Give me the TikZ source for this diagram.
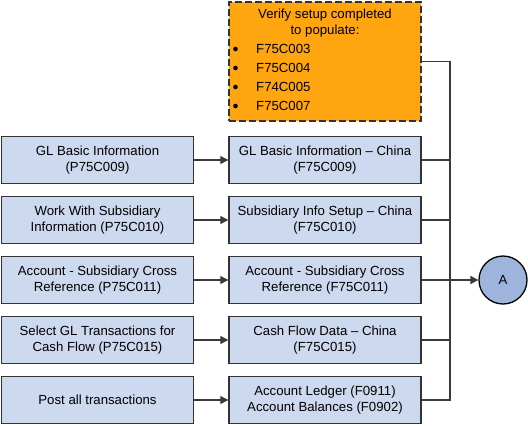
\documentclass[tikz,border=0pt]{standalone}
\usepackage{fontspec}
\setmainfont{Liberation Sans}
\usetikzlibrary{arrows.meta}
\definecolor{boxblue}{HTML}{CCD9EE}
\definecolor{boxline}{HTML}{333333}
\definecolor{orangefill}{HTML}{FFA50F}
\definecolor{circfill}{HTML}{9FB4DC}
\definecolor{wire}{HTML}{3A3A3A}
\tikzset{
  bluebox/.style={draw=boxline, line width=1.4pt, fill=boxblue, minimum width=192pt, minimum height=47pt, inner sep=0pt, align=center, font=\fontsize{13.2}{15.5}\selectfont},
  orangebox/.style={draw=boxline, line width=1.5pt, dash pattern=on 7pt off 3pt, fill=orangefill, minimum width=192pt, minimum height=119pt, inner sep=0pt},
  otext/.style={font=\fontsize{13.2}{15.5}\selectfont, inner sep=0pt},
  wireline/.style={draw=wire, line width=1.3pt},
  flow/.style={wireline, -{Triangle[length=8pt,width=8pt]}},
  endcirc/.style={circle, draw=black, line width=1.3pt, fill=circfill, minimum size=48pt, inner sep=0pt, font=\fontsize{13.2}{15.5}\selectfont}
}
\begin{document}
\begin{tikzpicture}[x=1pt,y=-1pt]
\useasboundingbox (0,0) rectangle (528,426);
% orange box
\node[orangebox] (org) at (325,61.5) {};
\node[otext] (t1) at (325,15) {Verify setup completed};
\node[otext] (t2) at (325,31) {to populate:};
\node[otext, anchor=west] (b1) at (256,49) {F75C003};
\node[otext, anchor=west] (b2) at (256,68) {F75C004};
\node[otext, anchor=west] (b3) at (256,87) {F74C005};
\node[otext, anchor=west] (b4) at (256,106) {F75C007};
\foreach \yy in {49,68,87,106}{
  \fill[black] (235.5,\yy) circle (2.3pt);
}
% left boxes
\node[bluebox] (l1) at (97.5,160) {GL Basic Information\\(P75C009)};
\node[bluebox] (l2) at (97.5,220) {Work With Subsidiary\\Information (P75C010)};
\node[bluebox] (l3) at (97.5,280) {Account - Subsidiary Cross\\Reference (P75C011)};
\node[bluebox] (l4) at (97.5,340) {Select GL Transactions for\\Cash Flow (P75C015)};
\node[bluebox] (l5) at (97.5,400) {Post all transactions};
% right boxes
\node[bluebox] (r1) at (325,160) {GL Basic Information -- China\\(F75C009)};
\node[bluebox] (r2) at (325,220) {Subsidiary Info Setup -- China\\(F75C010)};
\node[bluebox] (r3) at (325,280) {Account - Subsidiary Cross\\Reference (F75C011)};
\node[bluebox] (r4) at (325,340) {Cash Flow Data -- China\\(F75C015)};
\node[bluebox] (r5) at (325,400) {Account Ledger (F0911)\\Account Balances (F0902)};
% circle
\node[endcirc] (A) at (503,280) {A};
% bus
\coordinate (bt) at (450,61.5);
\coordinate (bb) at (450,400);
\coordinate (bm) at (450,280);
\draw[wireline] (org.east) -- (bt) -- (bb) -- (r5.east);
\foreach \r in {r1,r2,r3,r4}{
  \draw[wireline] (\r.east) -- (\r.east -| bt);
}
\draw[flow, line width=1.9pt] (bm) -- (A.west);
% arrows
\foreach \i in {1,...,5}{
  \draw[flow] (l\i.east) -- (r\i.west);
}
\end{tikzpicture}
\end{document}
